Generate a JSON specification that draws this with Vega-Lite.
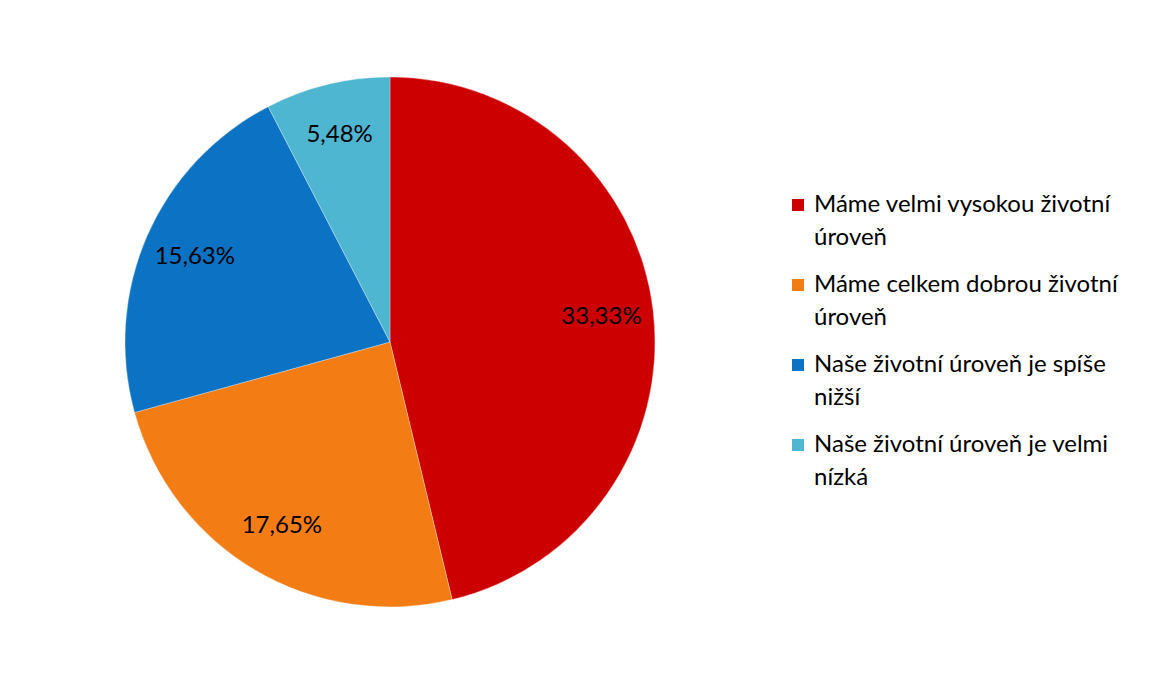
{
  "$schema": "https://vega.github.io/schema/vega-lite/v6.json",
  "width": 780,
  "height": 684,
  "autosize": {"type": "none"},
  "padding": {"left": 0, "top": 0, "right": 378, "bottom": 0},
  "background": "white",
  "data": {
    "values": [
      {"uroven": "Máme velmi vysokou životní úroveň", "podil": 0.3333, "poradi": 1},
      {"uroven": "Máme celkem dobrou životní úroveň", "podil": 0.1765, "poradi": 2},
      {"uroven": "Naše životní úroveň je spíše nižší", "podil": 0.1563, "poradi": 3},
      {"uroven": "Naše životní úroveň je velmi nízká", "podil": 0.0548, "poradi": 4}
    ]
  },
  "encoding": {
    "theta": {"field": "podil", "type": "quantitative", "stack": true},
    "order": {"field": "poradi", "type": "quantitative"}
  },
  "layer": [
    {
      "mark": {"type": "arc", "radius": 265, "stroke": "#ffffff", "strokeWidth": 0.5, "strokeOpacity": 0.6},
      "encoding": {
        "color": {
          "field": "uroven",
          "type": "nominal",
          "scale": {
            "domain": [
              "Máme velmi vysokou životní úroveň",
              "Máme celkem dobrou životní úroveň",
              "Naše životní úroveň je spíše nižší",
              "Naše životní úroveň je velmi nízká"
            ],
            "range": ["#cc0000", "#f47c14", "#0b72c4", "#4fb6d2"]
          },
          "legend": {
            "title": null,
            "orient": "none",
            "legendX": 786,
            "legendY": 193,
            "symbolType": "square",
            "symbolSize": 144,
            "symbolStrokeWidth": 0,
            "labelFont": "Lato",
            "labelFontSize": 24,
            "labelColor": "#000000",
            "labelOffset": 4,
            "labelLimit": 400,
            "rowPadding": 23,
            "labelExpr": "[slice(datum.label, 0, lastindexof(datum.label, ' ')), slice(datum.label, lastindexof(datum.label, ' ') + 1)]"
          }
        }
      }
    },
    {
      "mark": {"type": "text", "radius": 213, "font": "Lato", "fontSize": 24, "color": "#000000"},
      "encoding": {
        "text": {"field": "podil", "type": "quantitative", "format": ".2%"}
      }
    }
  ],
  "config": {
    "view": {"stroke": null},
    "locale": {
      "number": {"decimal": ",", "thousands": " ", "grouping": [3], "currency": ["", " Kč"]}
    },
    "style": {"guide-label": {"lineHeight": 33}}
  }
}
